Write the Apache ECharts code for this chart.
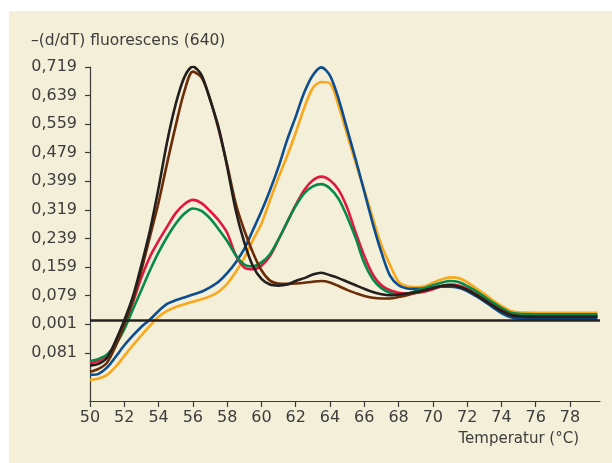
<!DOCTYPE html>
<html>
<head>
<meta charset="utf-8">
<script src="https://cdn.jsdelivr.net/npm/echarts@6/dist/echarts.min.js"></script>
<style>
html,body{margin:0;padding:0;background:#ffffff;}
#chart{width:612px;height:463px;}
</style>
</head>
<body>
<div id="chart"></div>
<script>
// Temperatures (°C)
const temps = [50,50.5,51,51.5,52,52.5,53,53.5,54,54.5,55,55.5,56,56.5,57,57.5,58,58.5,59,59.5,60,60.5,61,61.5,62,62.5,63,63.5,64,64.5,65,65.5,66,66.5,67,67.5,68,68.5,69,69.5,70,70.5,71,71.5,72,72.5,73,73.5,74,74.5,75,76,77,78,79,79.6];

const blackVals = [-0.117,-0.112,-0.095,-0.047,0.010,0.076,0.165,0.262,0.380,0.510,0.615,0.690,0.720,0.697,0.628,0.550,0.440,0.318,0.228,0.162,0.126,0.110,0.107,0.110,0.120,0.128,0.138,0.143,0.136,0.128,0.118,0.108,0.098,0.089,0.083,0.080,0.082,0.085,0.089,0.094,0.100,0.106,0.108,0.104,0.095,0.081,0.066,0.050,0.036,0.025,0.021,0.019,0.019,0.019,0.019,0.019];
const brownVals = [-0.134,-0.126,-0.108,-0.062,-0.004,0.066,0.150,0.245,0.340,0.450,0.555,0.650,0.706,0.690,0.630,0.545,0.445,0.337,0.262,0.200,0.150,0.121,0.113,0.112,0.113,0.115,0.118,0.120,0.116,0.106,0.095,0.086,0.078,0.073,0.071,0.071,0.075,0.080,0.086,0.093,0.100,0.106,0.108,0.104,0.096,0.083,0.068,0.052,0.038,0.027,0.022,0.021,0.021,0.021,0.021,0.021];
const redVals = [-0.110,-0.104,-0.088,-0.055,-0.004,0.060,0.130,0.188,0.232,0.272,0.310,0.335,0.347,0.338,0.316,0.290,0.255,0.192,0.158,0.153,0.163,0.190,0.236,0.284,0.333,0.375,0.402,0.412,0.402,0.375,0.325,0.255,0.190,0.138,0.108,0.094,0.087,0.085,0.087,0.090,0.097,0.105,0.110,0.107,0.098,0.085,0.070,0.054,0.040,0.029,0.025,0.024,0.024,0.024,0.024,0.024];
const greenVals = [-0.104,-0.098,-0.086,-0.058,-0.015,0.040,0.095,0.150,0.200,0.243,0.280,0.308,0.323,0.316,0.295,0.265,0.232,0.192,0.166,0.161,0.172,0.195,0.237,0.285,0.330,0.366,0.385,0.391,0.379,0.350,0.300,0.240,0.170,0.125,0.100,0.087,0.081,0.084,0.092,0.100,0.108,0.115,0.120,0.117,0.106,0.092,0.076,0.060,0.045,0.032,0.028,0.027,0.027,0.027,0.027,0.027];
const blueVals = [-0.143,-0.140,-0.122,-0.092,-0.060,-0.033,-0.008,0.012,0.036,0.056,0.066,0.074,0.082,0.090,0.102,0.118,0.142,0.172,0.210,0.262,0.315,0.374,0.440,0.515,0.580,0.648,0.696,0.718,0.695,0.630,0.545,0.460,0.370,0.280,0.200,0.135,0.108,0.099,0.098,0.099,0.101,0.104,0.104,0.101,0.092,0.078,0.063,0.046,0.030,0.019,0.015,0.013,0.013,0.013,0.013,0.013];
const orangeVals = [-0.157,-0.153,-0.143,-0.120,-0.090,-0.060,-0.032,-0.005,0.020,0.036,0.047,0.055,0.062,0.069,0.077,0.090,0.112,0.145,0.185,0.234,0.280,0.346,0.410,0.470,0.535,0.605,0.660,0.677,0.673,0.610,0.530,0.450,0.375,0.295,0.220,0.165,0.118,0.105,0.102,0.105,0.115,0.124,0.130,0.128,0.117,0.100,0.084,0.066,0.050,0.037,0.032,0.031,0.031,0.031,0.031,0.031];

const thresholdValue = [0.014];

const yTickValues = [-0.081,-0.001,0.079,0.159,0.239,0.319,0.399,0.479,0.559,0.639,0.719];
const yTickLabels = ['0,081','0,001','0,079','0,159','0,239','0,319','0,399','0,479','0,559','0,639','0,719'];
const xTickValues = [50,52,54,56,58,60,62,64,66,68,70,72,74,76,78];
const xTickLabels = ['50','52','54','56','58','60','62','64','66','68','70','72','74','76','78'];

const yTitle = '–(d/dT) fluorescens (640)';
const xTitle = 'Temperatur (°C)';

const FONT = '"DejaVu Sans", "Open Sans", sans-serif';
const TXT = '#3d3d3d';

function pairs(vals){ return temps.map((t,i)=>[t, vals[i]]); }
function mkSeries(vals, color){
  return {type:'line', data:pairs(vals), smooth:0.3, showSymbol:false, symbol:'none',
          lineStyle:{color:color, width:2.6}, itemStyle:{color:color}, z:3, animation:false};
}

const series = [
  mkSeries(orangeVals,'#f9a71c'),
  mkSeries(blueVals,'#0b4d8e'),
  mkSeries(redVals,'#e2173e'),
  mkSeries(greenVals,'#07894b'),
  mkSeries(brownVals,'#6b2c08'),
  mkSeries(blackVals,'#231f1f')
];
series.push({type:'line', data:[], symbol:'none', animation:false,
  markLine:{silent:true, symbol:['none','none'], label:{show:false},
    lineStyle:{color:'#231f1f', width:2.6, type:'solid'},
    data:[{yAxis: thresholdValue[0]}]}});

const chart = echarts.init(document.getElementById('chart'), null, {renderer:'canvas'});
chart.setOption({
  backgroundColor:'#ffffff',
  animation:false,
  graphic:[
    {type:'rect', shape:{x:9, y:11, width:603, height:452}, style:{fill:'#f3efd8'}, z:-10, silent:true},
    {type:'text', left:31, top:33, style:{text:yTitle, font:'15.5px ' + FONT, fill:TXT}, z:10},
    {type:'text', right:33, top:432, style:{text:xTitle, font:'15px ' + FONT, fill:TXT}, z:10}
  ],
  grid:{left:90, right:12, top:67, bottom:62, containLabel:false},
  xAxis:{type:'value', min:50, max:79.75,
    axisLine:{show:true, onZero:false, lineStyle:{color:'#3a3a3a', width:1.2}},
    axisTick:{show:true, length:6, customValues:xTickValues, lineStyle:{color:'#3a3a3a', width:1.2}},
    axisLabel:{customValues:xTickValues, margin:9, color:TXT, fontFamily:FONT, fontSize:16,
      formatter:(v)=>{const i=xTickValues.indexOf(v); return i>=0?xTickLabels[i]:'';}},
    splitLine:{show:false}},
  yAxis:{type:'value', min:-0.216, max:0.719,
    axisLine:{show:true, onZero:false, lineStyle:{color:'#3a3a3a', width:1.2}},
    axisTick:{show:true, length:5, customValues:yTickValues, lineStyle:{color:'#3a3a3a', width:1.2}},
    axisLabel:{customValues:yTickValues, margin:13, color:TXT, fontFamily:FONT, fontSize:16,
      formatter:(v)=>{let b=0,d=1e9; yTickValues.forEach((t,i)=>{if(Math.abs(t-v)<d){d=Math.abs(t-v);b=i;}}); return yTickLabels[b];}},
    splitLine:{show:false}},
  series:series
});
</script>
</body>
</html>
